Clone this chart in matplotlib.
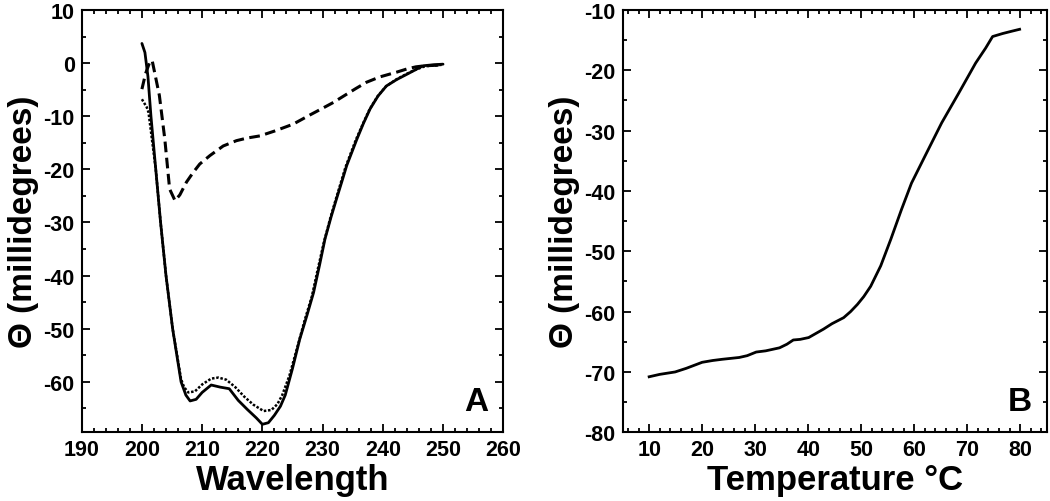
import matplotlib.pyplot as plt
from matplotlib.ticker import MultipleLocator

plt.rcParams['font.family'] = ['Liberation Sans', 'DejaVu Sans']
plt.rcParams['font.weight'] = 'bold'
plt.rcParams['axes.unicode_minus'] = False

# Panel A: CD spectra (wavelength vs ellipticity)
wl_solid = [200, 200.5, 201, 201.5, 202.3, 203.1, 204.0, 205.1, 206.5, 207.3, 208.0, 209.0,
            210.0, 211.5, 213.0, 214.5, 216.0, 217.5, 219.0, 220.0, 221.0, 222.0, 223.0,
            223.8, 225.0, 226.2, 227.4, 228.5, 229.5, 230.4, 231.4, 232.3, 233.2, 234.0,
            235.7, 236.8, 237.9, 239.2, 240.6, 242.3, 244.0, 245.5, 246.7, 248.5, 250.0]
cd_solid = [3.7, 2.0, -2.5, -10, -20, -30, -40, -50, -60, -62.5, -63.6, -63.3,
            -62.0, -60.6, -61.0, -61.3, -63.5, -65.2, -66.8, -68.0, -67.7, -66.3, -64.6,
            -62.5, -57.5, -52.0, -47.5, -43.2, -38.0, -33.1, -29.0, -25.6, -22.3, -19.3,
            -14.3, -11.3, -8.6, -6.2, -4.3, -3.1, -2.1, -1.2, -0.5, -0.3, -0.2]

wl_dotted = [200, 200.8, 201.1, 202.3, 203.1, 204.0, 205.1, 206.5, 207.0, 207.7, 208.8,
             210.0, 211.5, 212.7, 214.0, 215.5, 217.0, 218.5, 220.2, 221.5, 222.5, 223.3,
             224.5, 225.8, 227.0, 228.2, 229.2, 230.2, 231.2, 232.1, 233.0, 233.8, 235.5,
             236.7, 237.8, 239.1, 240.5, 242.2, 244.0, 245.5, 247.0, 249.0, 250.0]
cd_dotted = [-6.8, -8.3, -9.3, -20, -30, -40, -50, -59.5, -61.0, -62.0, -61.8,
             -60.5, -59.4, -59.2, -59.6, -61.0, -62.8, -64.3, -65.5, -65.3, -64.2, -62.5,
             -58.8, -53.5, -48.5, -44.0, -38.8, -33.8, -29.5, -26.0, -22.6, -19.6, -14.5,
             -11.4, -8.7, -6.3, -4.4, -3.1, -2.0, -1.2, -0.6, -0.4, -0.3]

wl_dashed = [200, 200.6, 201.3, 201.7, 202.1, 202.9, 203.8, 204.6, 205.5, 206.3, 207.4,
             208.5, 209.6, 211.3, 213.5, 215.7, 217.5, 219.6, 222.0, 225.1, 228.0, 230.0,
             231.8, 233.5, 235.5, 237.3, 239.5, 242.3, 244.0, 245.5, 247.0, 249.0, 250.0]
cd_dashed = [-4.9, -2.0, 0.2, 0.5, -1.7, -6.1, -14.3, -23.7, -25.9, -24.8, -22.4,
             -20.6, -19.0, -17.4, -15.6, -14.6, -14.1, -13.7, -12.8, -11.5, -9.7, -8.5,
             -7.4, -6.2, -4.8, -3.6, -2.6, -1.7, -1.1, -0.7, -0.5, -0.4, -0.3]

# Panel B: thermal melt
temp = [10, 12, 14.9, 17, 20, 22, 23.8, 27, 28.5, 30.2, 32, 34.6, 36, 37.2, 38.5, 40.1,
        42.9, 44.5, 46.7, 48, 49.3, 50.5, 51.8, 53.7, 55.6, 57.6, 59.5, 62.0, 65.2, 68.4,
        71.6, 73.5, 74.8, 76.7, 78.5, 79.9]
cd_temp = [-70.8, -70.4, -70.0, -69.4, -68.4, -68.1, -67.9, -67.6, -67.3, -66.7, -66.5,
           -66.0, -65.4, -64.7, -64.6, -64.3, -62.9, -62.0, -61.0, -60.0, -58.8, -57.5,
           -55.8, -52.4, -48.0, -43.1, -38.7, -34.3, -28.7, -23.8, -18.8, -16.3, -14.4,
           -13.9, -13.5, -13.2]

fig = plt.figure(figsize=(10.5, 5.02), dpi=100)
ax1 = fig.add_axes([0.0778, 0.1369, 0.4015, 0.8412])
ax2 = fig.add_axes([0.5930, 0.1369, 0.4038, 0.8412])

ax1.plot(wl_solid, cd_solid, color='black', lw=2.0, solid_capstyle='round')
ax1.plot(wl_dotted, cd_dotted, color='black', lw=1.8, linestyle=(0, (1, 0.7)))
ax1.plot(wl_dashed, cd_dashed, color='black', lw=2.2, linestyle=(0, (3.5, 1.8)))
ax1.set_xlim(190, 260)
ax1.set_ylim(-69.5, 10)
ax1.xaxis.set_major_locator(MultipleLocator(10))
ax1.xaxis.set_minor_locator(MultipleLocator(2))
ax1.yaxis.set_major_locator(MultipleLocator(10))
ax1.yaxis.set_minor_locator(MultipleLocator(5))
ax1.set_xlabel('Wavelength', fontsize=25, fontweight='bold', labelpad=2)
ax1.set_ylabel('Θ (millidegrees)', fontsize=24, fontweight='bold', labelpad=3)
ax1.text(0.964, 0.036, 'A', transform=ax1.transAxes, ha='right', va='bottom',
         fontsize=24, fontweight='bold')

ax2.plot(temp, cd_temp, color='black', lw=2.0)
ax2.set_xlim(5, 85)
ax2.set_ylim(-80, -10)
ax2.xaxis.set_major_locator(MultipleLocator(10))
ax2.xaxis.set_minor_locator(MultipleLocator(2))
ax2.yaxis.set_major_locator(MultipleLocator(10))
ax2.yaxis.set_minor_locator(MultipleLocator(5))
ax2.set_xlabel('Temperature °C', fontsize=25, fontweight='bold', labelpad=2)
ax2.set_ylabel('Θ (millidegrees)', fontsize=24, fontweight='bold', labelpad=3)
ax2.text(0.965, 0.036, 'B', transform=ax2.transAxes, ha='right', va='bottom',
         fontsize=24, fontweight='bold')

for ax in (ax1, ax2):
    for sp in ax.spines.values():
        sp.set_linewidth(1.5)
    ax.tick_params(which='both', direction='in', top=True, right=True, width=1.3)
    ax.tick_params(which='major', length=6, labelsize=15.5, pad=5)
    ax.tick_params(which='minor', length=3)
    for lab in ax.get_xticklabels() + ax.get_yticklabels():
        lab.set_fontweight('bold')

fig.savefig('out.png', dpi=100)
